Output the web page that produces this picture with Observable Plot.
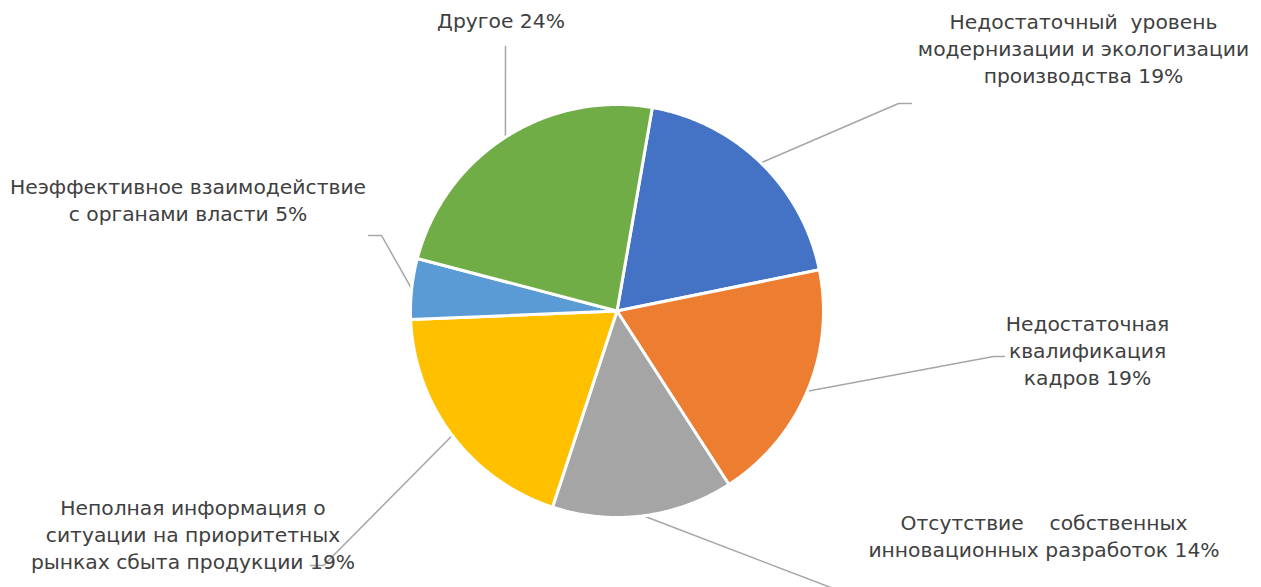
<!DOCTYPE html>
<html>
<head>
<meta charset="utf-8">
<script src="https://cdn.jsdelivr.net/npm/d3@7"></script>
<script src="https://cdn.jsdelivr.net/npm/@observablehq/plot@0.6"></script>
<style>
  html, body { margin: 0; padding: 0; background: #fff; overflow: hidden; }
  #chart svg { display: block; overflow: hidden; }
</style>
</head>
<body>
<div id="chart"></div>
<script>
// ---- data ----
const categories = [
  "Недостаточный уровень модернизации и экологизации производства",
  "Недостаточная квалификация кадров",
  "Отсутствие собственных инновационных разработок",
  "Неполная информация о ситуации на приоритетных рынках сбыта продукции",
  "Неэффективное взаимодействие с органами власти",
  "Другое"
];
const labelLines = [
  "Недостаточный\u00a0 уровень\nмодернизации и экологизации\nпроизводства",
  "Недостаточная\nквалификация\nкадров",
  "Отсутствие\u00a0\u00a0\u00a0 собственных\nинновационных разработок",
  "Неполная информация о\nситуации на приоритетных\nрынках сбыта продукции",
  "Неэффективное взаимодействие\nс органами власти",
  "Другое"
];
const values = [19.07, 19.08, 14.17, 19.28, 4.76, 23.64];
const colors = ["#4472C4", "#ED7D31", "#A5A5A5", "#FFC000", "#5B9BD5", "#70AD47"];

// ---- layout ----
const W = 1261, H = 587;
const cx = 616.5, cy = 310.5, R = 206.5;
const startDeg = 9.85;
// leader elbows / ends (px) and label centres (px)
const leaderElbow = [[898, 103, 911, 103], [993, 356, 1004, 356], [880, 606, 890, 606], [323, 565, 310, 565], [381, 235, 368, 235], [505, 46, 505, 46]];
const labelPos = [[1083, 47], [1087, 349], [1043.5, 534], [192.5, 533], [187.5, 198], [500.5, 19]];

const ux = px => (px - cx) / R;
const uy = py => (cy - py) / R;

const total = d3.sum(values);
let acc = startDeg;
const slices = values.map((v, i) => {
  const a0 = acc, a1 = acc + v / total * 360;
  acc = a1;
  return {key: categories[i], a0, a1, mid: (a0 + a1) / 2, i};
});

const rad = d => d * Math.PI / 180;
const polyPts = [];
for (const s of slices) {
  polyPts.push({key: s.key, x: 0, y: 0});
  const n = Math.max(2, Math.ceil((s.a1 - s.a0) / 0.5));
  for (let k = 0; k <= n; k++) {
    const a = rad(s.a0 + (s.a1 - s.a0) * k / n);
    polyPts.push({key: s.key, x: Math.sin(a), y: Math.cos(a)});
  }
}

const leaderPts = [];
slices.forEach((s, i) => {
  const a = rad(s.mid);
  const e = leaderElbow[i];
  leaderPts.push({key: s.key, x: Math.sin(a), y: Math.cos(a)});
  leaderPts.push({key: s.key, x: ux(e[0]), y: uy(e[1])});
  leaderPts.push({key: s.key, x: ux(e[2]), y: uy(e[3])});
});

const labelData = slices.map((s, i) => ({
  x: ux(labelPos[i][0]),
  y: uy(labelPos[i][1]),
  text: labelLines[i] + " " + Math.round(values[i]) + "%"
}));

const chart = Plot.plot({
  width: W,
  height: H,
  margin: 0,
  x: {domain: [ux(0), ux(W)], axis: null},
  y: {domain: [uy(H), uy(0)], axis: null},
  color: {domain: categories, range: colors},
  style: {background: "#fff"},
  marks: [
    Plot.line(leaderPts, {x: "x", y: "y", z: "key", stroke: "#A6A6A6", strokeWidth: 1.5}),
    Plot.line(polyPts, {x: "x", y: "y", z: "key", fill: "key", stroke: "#fff", strokeWidth: 3, strokeLinejoin: "round", curve: "linear-closed"}),
    Plot.text(labelData, {x: "x", y: "y", text: "text", fontSize: 20.3, fontFamily: "DejaVu Sans", fill: "#404040", lineHeight: 1.33, textAnchor: "middle", lineAnchor: "middle"})
  ]
});
document.getElementById("chart").appendChild(chart);
</script>
</body>
</html>
